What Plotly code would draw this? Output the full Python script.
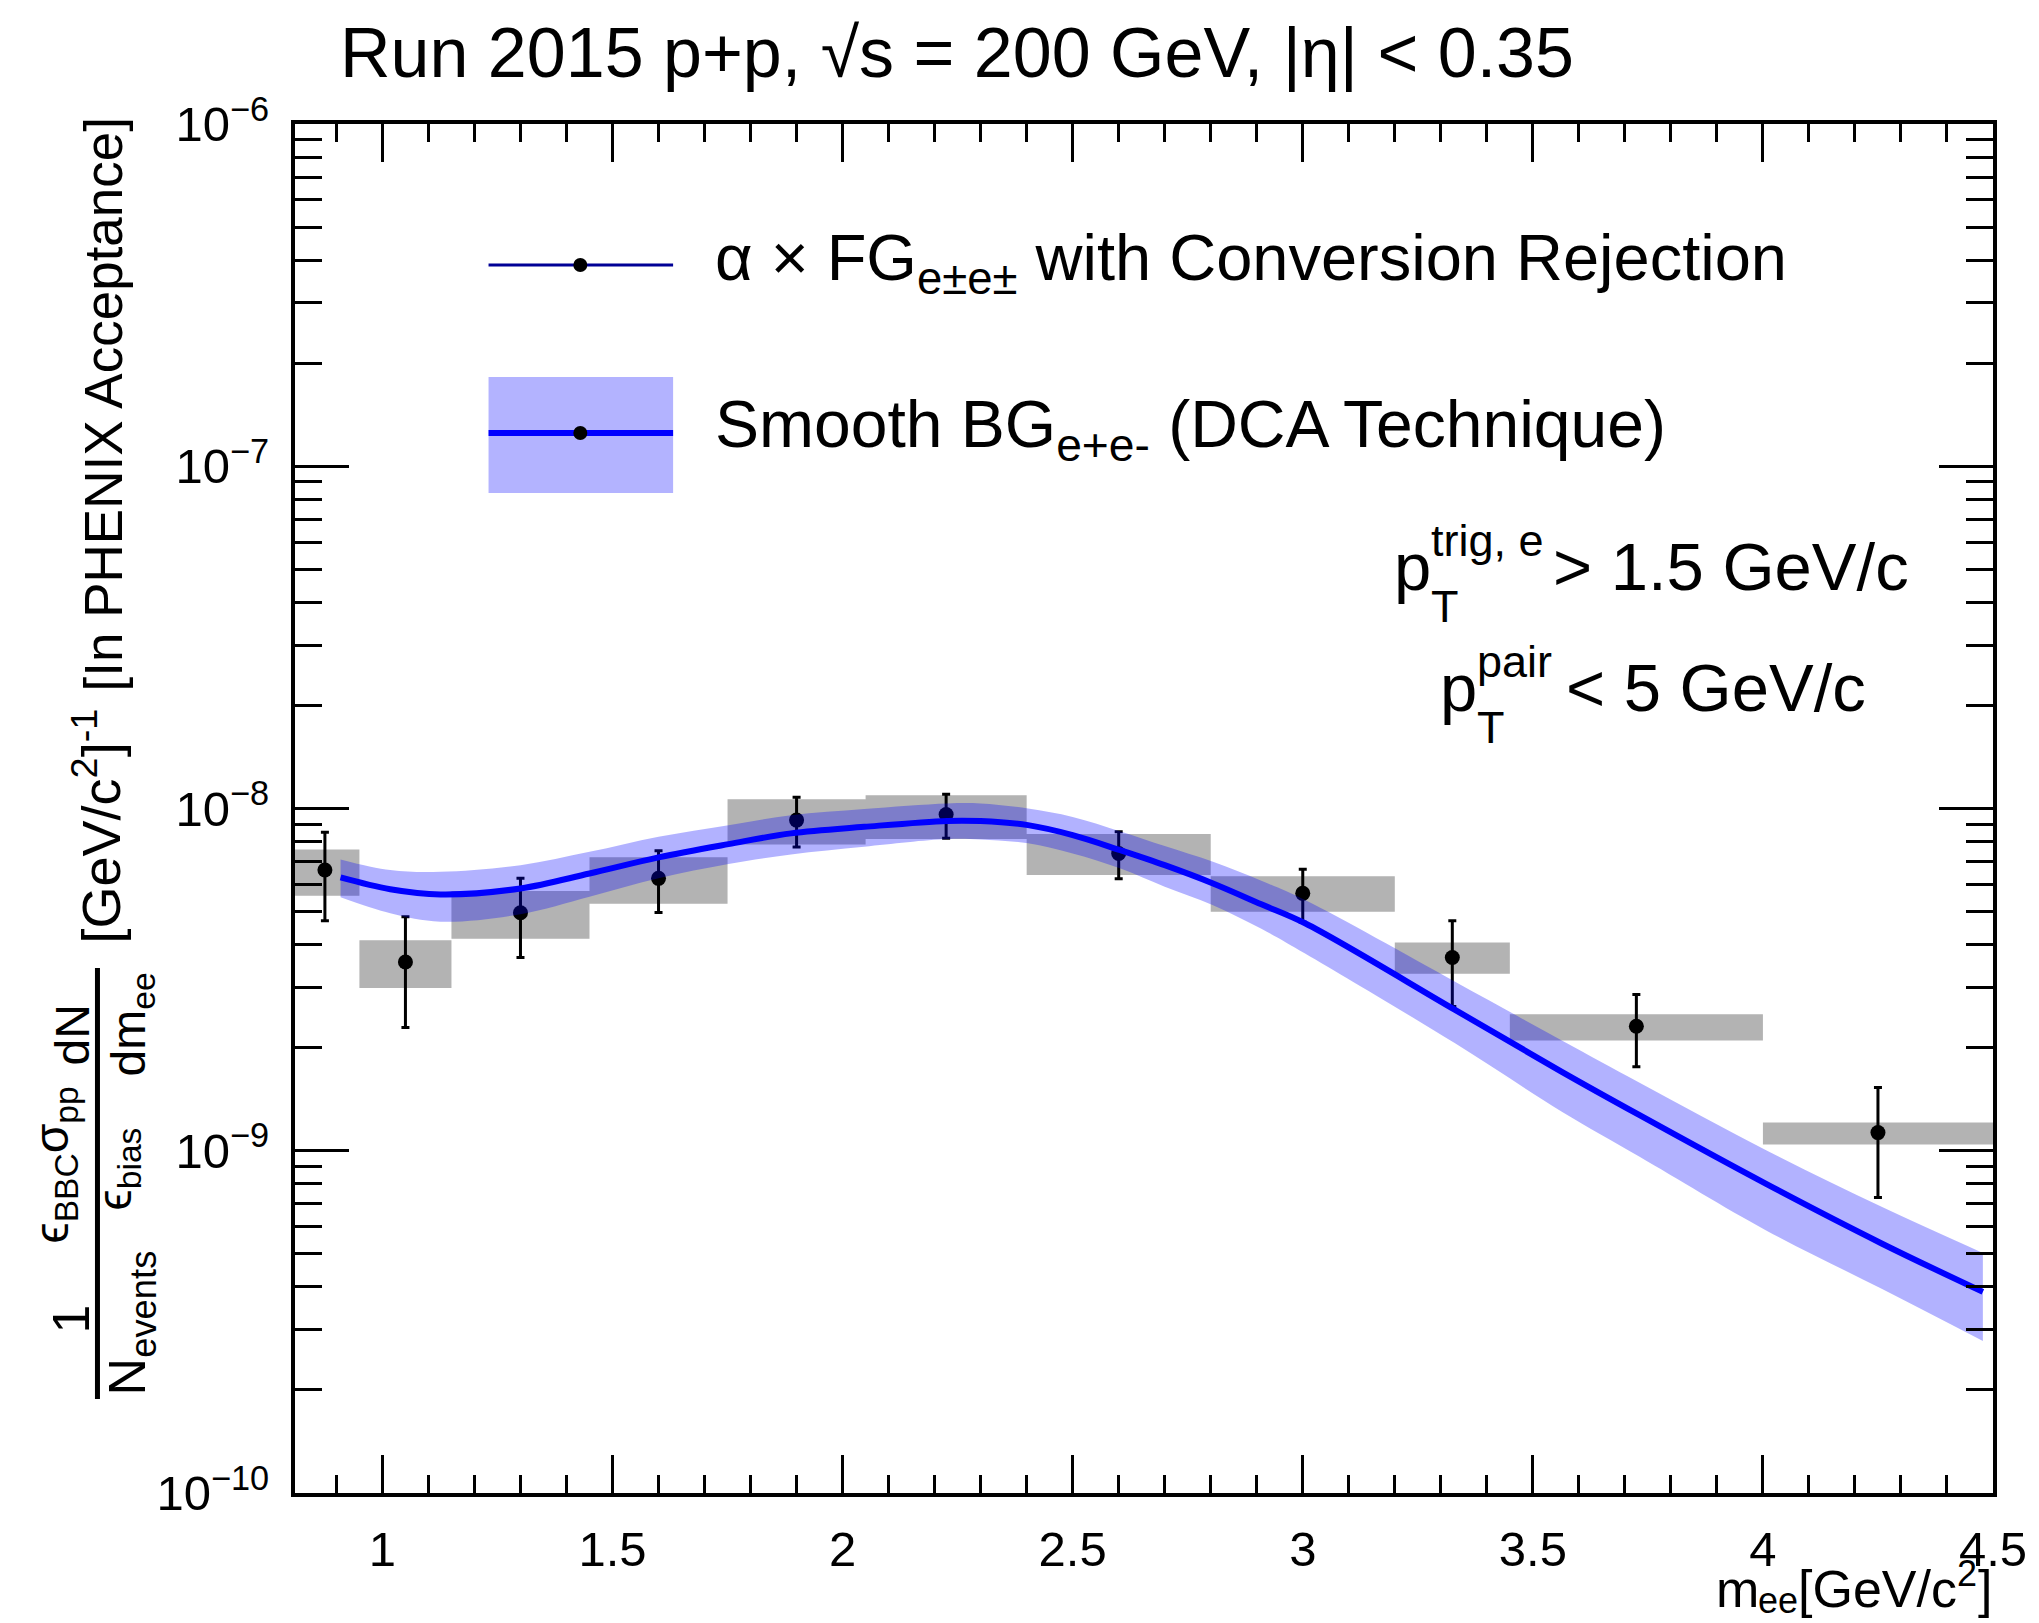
import plotly.graph_objects as go

# ---------------- data ----------------
bin_edges = [0.80, 0.95, 1.15, 1.45, 1.75, 2.05, 2.40, 2.80, 3.20, 3.45, 4.00, 4.50]
mass_points = [0.875, 1.05, 1.30, 1.60, 1.90, 2.225, 2.60, 3.00, 3.325, 3.725, 4.25]
fg_yield_e9 = [6.61, 3.56, 4.96, 6.25, 9.25, 9.60, 7.39, 5.65, 3.67, 2.31, 1.13]
fg_stat_e9 = [1.91, 1.27, 1.29, 1.28, 1.53, 1.41, 1.16, 1.00, 1.03, 0.55, 0.40]
fg_sys_lo_e9 = [5.56, 2.99, 4.16, 5.27, 7.85, 8.14, 6.39, 4.99, 3.29, 2.10, 1.043]
fg_sys_hi_e9 = [7.59, 4.12, 5.74, 7.20, 10.65, 10.94, 8.42, 6.34, 4.06, 2.506, 1.21]

bg_mass = [0.909, 1.017, 1.126, 1.30, 1.45, 1.60, 1.752, 1.888, 2.047, 2.227, 2.30,
           2.403, 2.50, 2.604, 2.70, 2.805, 2.91, 3.005, 3.331, 3.563, 3.732, 4.007,
           4.258, 4.478]
bg_yield_e9 = [6.29, 5.81, 5.61, 5.84, 6.46, 7.20, 7.87, 8.46, 8.84, 9.20, 9.19,
               8.94, 8.36, 7.55, 6.83, 6.04, 5.25, 4.62, 2.58, 1.70, 1.27, 0.80,
               0.536, 0.387]
bg_band_lo_e9 = [5.50, 4.94, 4.67, 4.91, 5.52, 6.25, 6.88, 7.34, 7.73, 8.14, 8.12,
                 7.91, 7.39, 6.68, 5.91, 5.22, 4.45, 3.77, 2.06, 1.30, 0.96, 0.585,
                 0.395, 0.278]
bg_band_hi_e9 = [7.10, 6.61, 6.53, 6.83, 7.47, 8.27, 8.94, 9.56, 9.97, 10.35, 10.35,
                 10.0, 9.45, 8.57, 7.77, 6.99, 6.15, 5.40, 3.12, 2.10, 1.58, 1.004,
                 0.686, 0.503]

x_tick_vals = [1, 1.5, 2, 2.5, 3, 3.5, 4, 4.5]
x_tick_text = ["1", "1.5", "2", "2.5", "3", "3.5", "4", "4.5"]
y_tick_vals = [1e-10, 1e-9, 1e-8, 1e-7, 1e-6]
y_tick_text = ["10<sup>\u221210</sup>", "10<sup>\u22129</sup>", "10<sup>\u22128</sup>",
               "10<sup>\u22127</sup>", "10<sup>\u22126</sup>"]

SCALE = 1e-9
FONT = "Liberation Sans"

# ---------------- geometry ----------------
W, H = 2039, 1623
L, R, T, B = 295, 1997, 124, 1493


def px(X):
    return (X - L) / (R - L)


def py(Y):
    return (B - Y) / (B - T)


fig = go.Figure()

# systematic boxes
bx, by = [], []
for i in range(len(mass_points)):
    x0, x1 = bin_edges[i], bin_edges[i + 1]
    lo, hi = fg_sys_lo_e9[i] * SCALE, fg_sys_hi_e9[i] * SCALE
    bx += [x0, x1, x1, x0, x0, None]
    by += [lo, lo, hi, hi, lo, None]
fig.add_trace(go.Scatter(x=bx, y=by, mode="lines", fill="toself",
                         fillcolor="rgb(179,179,179)", line=dict(width=0),
                         hoverinfo="skip"))

# data points
fig.add_trace(go.Scatter(
    x=mass_points, y=[v * SCALE for v in fg_yield_e9], mode="markers",
    marker=dict(color="black", size=15),
    error_y=dict(type="data", array=[v * SCALE for v in fg_stat_e9],
                 color="black", thickness=3, width=4),
))

# band
fig.add_trace(go.Scatter(x=bg_mass, y=[v * SCALE for v in bg_band_lo_e9], mode="lines",
                         line=dict(width=0, shape="spline", color="rgba(0,0,255,0)"),
                         hoverinfo="skip"))
fig.add_trace(go.Scatter(x=bg_mass, y=[v * SCALE for v in bg_band_hi_e9], mode="lines",
                         line=dict(width=0, shape="spline", color="rgba(0,0,255,0)"),
                         fill="tonexty", fillcolor="rgba(0,0,255,0.3)",
                         hoverinfo="skip"))
# smooth BG line
fig.add_trace(go.Scatter(x=bg_mass, y=[v * SCALE for v in bg_yield_e9], mode="lines",
                         line=dict(width=6, shape="spline", color="rgb(0,0,255)")))

minor_y = [m * 10 ** e for e in range(-10, -6) for m in range(2, 10)]

fig.update_layout(
    width=W, height=H,
    margin=dict(l=L, r=W - R, t=T, b=H - B, pad=0),
    plot_bgcolor="white", paper_bgcolor="white",
    showlegend=False,
    font=dict(family=FONT, color="black", size=48),
    xaxis=dict(
        range=[0.81, 4.5], showgrid=False, zeroline=False,
        showline=True, linecolor="black", linewidth=4, mirror="allticks",
        ticks="inside", ticklen=38, tickwidth=3, tickcolor="black",
        tickvals=x_tick_vals, ticktext=x_tick_text,
        tickfont=dict(family=FONT, size=49), ticklabelstandoff=10,
        minor=dict(ticks="inside", ticklen=18, tickwidth=3, tickcolor="black",
                   dtick=0.1, tick0=0, showgrid=False),
    ),
    yaxis=dict(
        type="log", range=[-10, -6], showgrid=False, zeroline=False,
        showline=True, linecolor="black", linewidth=4, mirror="allticks",
        ticks="inside", ticklen=54, tickwidth=3, tickcolor="black",
        tickvals=y_tick_vals, ticktext=y_tick_text,
        tickfont=dict(family=FONT, size=49), ticklabelstandoff=12,
        minor=dict(ticks="inside", ticklen=27, tickwidth=3, tickcolor="black",
                   tickvals=minor_y, showgrid=False),
    ),
)

ann = []


def text(s, X, Y, size, xanchor="left", angle=0, yanchor="middle"):
    ann.append(dict(text=s, x=px(X), y=py(Y), xref="paper", yref="paper",
                    xanchor=xanchor, yanchor=yanchor, showarrow=False,
                    textangle=angle, font=dict(family=FONT, size=size, color="black")))


# title
text("Run 2015 p+p, \u221as = 200 GeV, |\u03b7| < 0.35", 338, 53, 70)

# legend texts
text("\u03b1 \u00d7 FG<sub>e\u00b1e\u00b1</sub> with Conversion Rejection", 714, 262, 65)
text("Smooth BG<sub>e+e-</sub> (DCA Technique)", 714, 429, 66)

# pT cuts
text("p", 1395, 566, 67)
text("trig, e", 1432, 540, 45)
text("T", 1432, 606, 45)
text("> 1.5 GeV/c", 1554, 566, 67)
text("p", 1441, 687, 67)
text("pair", 1478, 661, 45)
text("T", 1478, 727, 45)
text("< 5 GeV/c", 1567, 687, 67)

# x-axis title, built from pieces (m_ee [GeV/c^2])
text("]", 1998, 1589, 52, xanchor="right")
text("2", 1983, 1573, 36, xanchor="right")
text("[GeV/c", 1963, 1589, 52, xanchor="right")
text("ee", 1804, 1601, 36, xanchor="right")
text("m", 1764, 1589, 52, xanchor="right")

# y-axis title (rotated pieces)
text("1", 70, 1319, 52, xanchor="center", angle=-90)
text("N<sub>events</sub>", 131, 1323, 52, xanchor="center", angle=-90)
text("\u03f5<sub>BBC</sub>\u03c3<sub>pp</sub>", 54, 1165, 48, xanchor="center", angle=-90)
text("\u03f5<sub>bias</sub>", 118, 1169, 48, xanchor="center", angle=-90)
text("dN", 71, 1035, 48, xanchor="center", angle=-90)
text("dm<sub>ee</sub>", 132, 1024, 48, xanchor="center", angle=-90)
text("[GeV/c<sup>2</sup>]<sup>-1</sup>", 97, 826, 54, xanchor="center", angle=-90)
text("[In PHENIX Acceptance]", 104, 404, 53, xanchor="center", angle=-90)

fig.update_layout(annotations=ann)

shapes = []
# fraction bar
shapes.append(dict(type="line", xref="paper", yref="paper", x0=px(97), x1=px(97),
                   y0=py(968), y1=py(1399), line=dict(color="black", width=5)))
# legend entry 1
shapes.append(dict(type="line", xref="paper", yref="paper", x0=px(489), x1=px(674),
                   y0=py(265), y1=py(265), line=dict(color="rgb(0,0,150)", width=3)))
# legend entry 2
shapes.append(dict(type="rect", xref="paper", yref="paper", x0=px(489), x1=px(674),
                   y0=py(493), y1=py(377), fillcolor="rgb(179,179,255)",
                   line=dict(width=0)))
shapes.append(dict(type="line", xref="paper", yref="paper", x0=px(489), x1=px(674),
                   y0=py(433), y1=py(433), line=dict(color="rgb(0,0,255)", width=6)))
for cy in (265, 433):
    shapes.append(dict(type="circle", xref="paper", yref="paper",
                       x0=px(581 - 7), x1=px(581 + 7), y0=py(cy + 7), y1=py(cy - 7),
                       fillcolor="black", line=dict(width=0)))
fig.update_layout(shapes=shapes)

fig.write_html("out.html", config={"displayModeBar": False})
